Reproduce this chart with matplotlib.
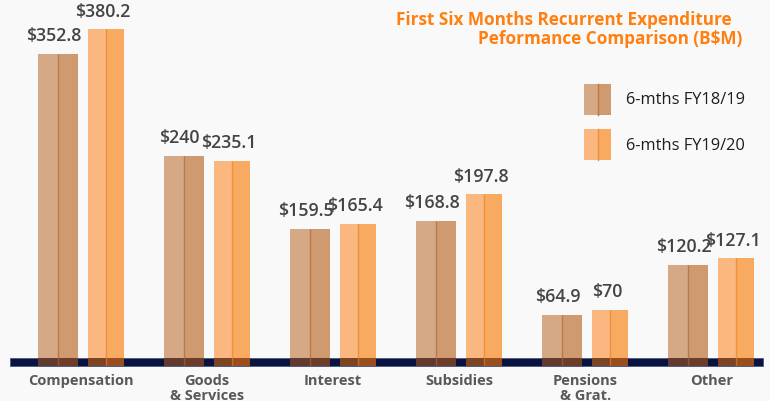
import matplotlib
matplotlib.use("Agg")
import matplotlib.pyplot as plt
from matplotlib.patches import Rectangle
import numpy as np

categories = ["Compensation", "Goods\n& Services", "Interest", "Subsidies", "Pensions\n& Grat.", "Other"]
fy1819 = [352.8, 240, 159.5, 168.8, 64.9, 120.2]
fy1920 = [380.2, 235.1, 165.4, 197.8, 70, 127.1]
labels1819 = ["$352.8", "$240", "$159.5", "$168.8", "$64.9", "$120.2"]
labels1920 = ["$380.2", "$235.1", "$165.4", "$197.8", "$70", "$127.1"]
series_names = ["6-mths FY18/19", "6-mths FY19/20"]
title_lines = ["First Six Months Recurrent Expenditure", "Peformance Comparison (B$M)"]

BG = "#f9f9f9"
C1_L, C1_R, C1_D = "#d5a985", "#cf9a70", "#b9784a"
C2_L, C2_R, C2_D = "#fab880", "#f8aa60", "#f0903a"
C1_DL, C1_DR = "#633a2e", "#6e3d2a"
C2_DL, C2_DR = "#7d4424", "#9a4e1e"
NAVY = "#08143f"
ORANGE = "#ff7f10"
FONT = ["Open Sans", "DejaVu Sans"]

W, H = 770, 402
fig = plt.figure(figsize=(W / 100, H / 100), dpi=100, facecolor=BG)
ax = fig.add_axes([0, (H - 367) / H, 1, 367 / H])
ax.set_facecolor(BG)
for s in ax.spines.values():
    s.set_visible(False)
ax.set_xticks([])
ax.set_yticks([])

x = np.arange(len(categories))
ax.set_xlim(-0.64, 5.466)
ax.set_ylim(8.2, 413.8)

w1, w2 = 0.317, 0.285
o1, o2 = -0.182, 0.198

# baseline band (figure coords)
band = Rectangle((10 / W, (H - 367) / H), (763 - 10) / W, 8 / H,
                 transform=fig.transFigure, facecolor=NAVY,
                 edgecolor="#4a5780", lw=0.6, zorder=4, clip_on=False)
ax.add_patch(band)

def two_tone(xc, vals, w, cl, cr, cd, dl, dr):
    ax.bar(xc - w / 4, vals, width=w / 2, color=cl, zorder=2)
    ax.bar(xc + w / 4, vals, width=w / 2, color=cr, zorder=2)
    ax.vlines(xc, 0, vals, color=cd, lw=1.0, zorder=3)
    for bc in (ax.bar(xc - w / 4, vals, width=w / 2, color=dl, zorder=5),
               ax.bar(xc + w / 4, vals, width=w / 2, color=dr, zorder=5)):
        for p in bc:
            p.set_clip_path(band)
    vl = ax.vlines(xc, 0, vals, color=cd, lw=1.0, alpha=0.45, zorder=6)
    vl.set_clip_path(band)

two_tone(x + o1, fy1819, w1, C1_L, C1_R, C1_D, C1_DL, C1_DR)
two_tone(x + o2, fy1920, w2, C2_L, C2_R, C2_D, C2_DL, C2_DR)

for xi, v, lab in zip(x + o1, fy1819, labels1819):
    ax.annotate(lab, (xi, v), xytext=(-3, 10), textcoords="offset points",
                ha="center", va="baseline", fontsize=12.8, fontweight="semibold",
                color="#444444", family=FONT)
for xi, v, lab in zip(x + o2, fy1920, labels1920):
    ax.annotate(lab, (xi, v), xytext=(-2, 10), textcoords="offset points",
                ha="center", va="baseline", fontsize=12.8, fontweight="semibold",
                color="#444444", family=FONT)

# category labels
for xi, cat in zip(x, categories):
    xf = ax.transData.transform((xi, 0))[0] / W
    fig.text(xf, (H - 374) / H, cat, ha="center", va="top", fontsize=10.5,
             fontweight="bold", color="#595959", family=FONT, linespacing=1.05)

# title
fig.text(732 / W, 1 - 20 / H, title_lines[0], ha="right", va="center",
         fontsize=12.3, fontweight="bold", color=ORANGE, family=FONT)
fig.text(742 / W, 1 - 39 / H, title_lines[1], ha="right", va="center",
         fontsize=12.3, fontweight="bold", color=ORANGE, family=FONT)

# legend
for (yt, cl, cr, cd, name) in [(85, C1_L, C1_R, C1_D, series_names[0]),
                               (130, C2_L, C2_R, C2_D, series_names[1])]:
    x0, wl, hl = 584, 27, 31
    fig.patches.append(Rectangle((x0 / W, 1 - (yt + hl) / H), (wl / 2) / W, hl / H,
                                 transform=fig.transFigure, facecolor=cl, lw=0))
    fig.patches.append(Rectangle(((x0 + wl / 2) / W, 1 - (yt + hl) / H), (wl / 2) / W, hl / H,
                                 transform=fig.transFigure, facecolor=cr, lw=0))
    fig.lines.append(plt.Line2D([(x0 + wl / 2) / W] * 2, [1 - (yt + hl) / H, 1 - yt / H],
                                transform=fig.transFigure, color=cd, lw=1))
    fig.text(626 / W, 1 - (yt + hl / 2) / H, name, ha="left", va="center",
             fontsize=11.8, color="#1e1e1e", family=FONT)

fig.savefig("out.png", dpi=100, facecolor=BG)
